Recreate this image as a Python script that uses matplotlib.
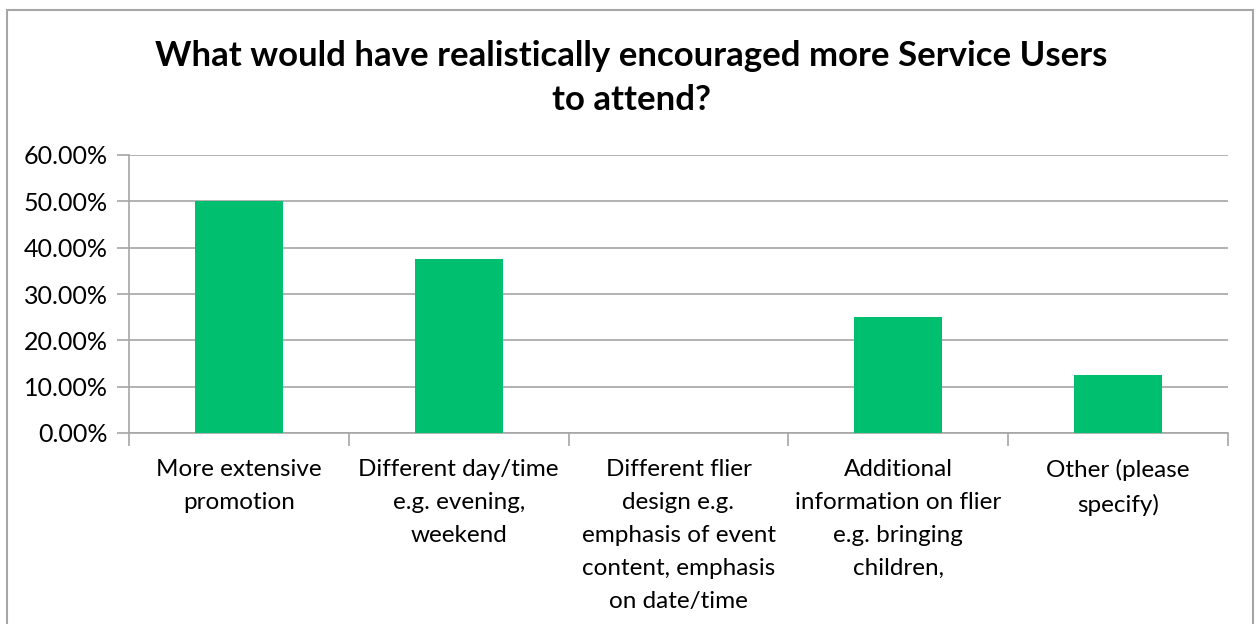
import matplotlib
matplotlib.use("Agg")
import matplotlib.pyplot as plt
from matplotlib.patches import Rectangle
from matplotlib.ticker import FuncFormatter, MultipleLocator

categories = [
    "More extensive\npromotion",
    "Different day/time\ne.g. evening,\nweekend",
    "Different flier\ndesign e.g.\nemphasis of event\ncontent, emphasis\non date/time",
    "Additional\ninformation on flier\ne.g. bringing\nchildren,",
    "Other (please\nspecify)",
]
values = [0.50, 0.375, 0.0, 0.25, 0.125]
title = "What would have realistically encouraged more Service Users\nto attend?"

plt.rcParams["font.family"] = ["Lato", "DejaVu Sans"]

fig = plt.figure(figsize=(12.58, 6.24), dpi=100)
fig.patches.append(Rectangle((7 / 1258, -0.01), 1 - 12 / 1258, 1.01 - 10 / 624,
                             transform=fig.transFigure, fill=False,
                             edgecolor="#a6a6a6", linewidth=1.5))

ax = fig.add_axes([129 / 1258, 1 - 433 / 624, (1228 - 129) / 1258, (433 - 155) / 624])
x = range(len(categories))
ax.bar(x, values, width=0.4, color="#00bf6f", zorder=3)
ax.set_xlim(-0.5, len(categories) - 0.5)
ax.set_ylim(0, 0.6)
ax.yaxis.set_major_locator(MultipleLocator(0.1))
ax.yaxis.set_major_formatter(FuncFormatter(lambda v, p: f"{v * 100:.2f}%"))
ax.grid(axis="y", color="#a6a6a6", linewidth=1.2, zorder=0)

for s in ["top", "right"]:
    ax.spines[s].set_visible(False)
for s in ["left", "bottom"]:
    ax.spines[s].set_color("#a6a6a6")
    ax.spines[s].set_linewidth(1.2)

ax.set_xticks([i + 0.5 for i in range(-1, len(categories))], minor=False)
ax.set_xticklabels([])
ax.set_xticks(list(x), minor=True)
ax.set_xticklabels(categories, minor=True, fontsize=17.5, linespacing=1.7, va="top")
ax.tick_params(axis="x", which="major", length=9, color="#a6a6a6", width=1.2)
ax.tick_params(axis="x", which="minor", length=0, pad=19)
ax.tick_params(axis="y", length=9, color="#a6a6a6", width=1.2, labelsize=18, pad=6)

fig.text(0.502, 0.875, title, ha="center", va="center", fontsize=25,
         fontweight="bold", linespacing=1.45)

fig.savefig("out.png", dpi=100)
